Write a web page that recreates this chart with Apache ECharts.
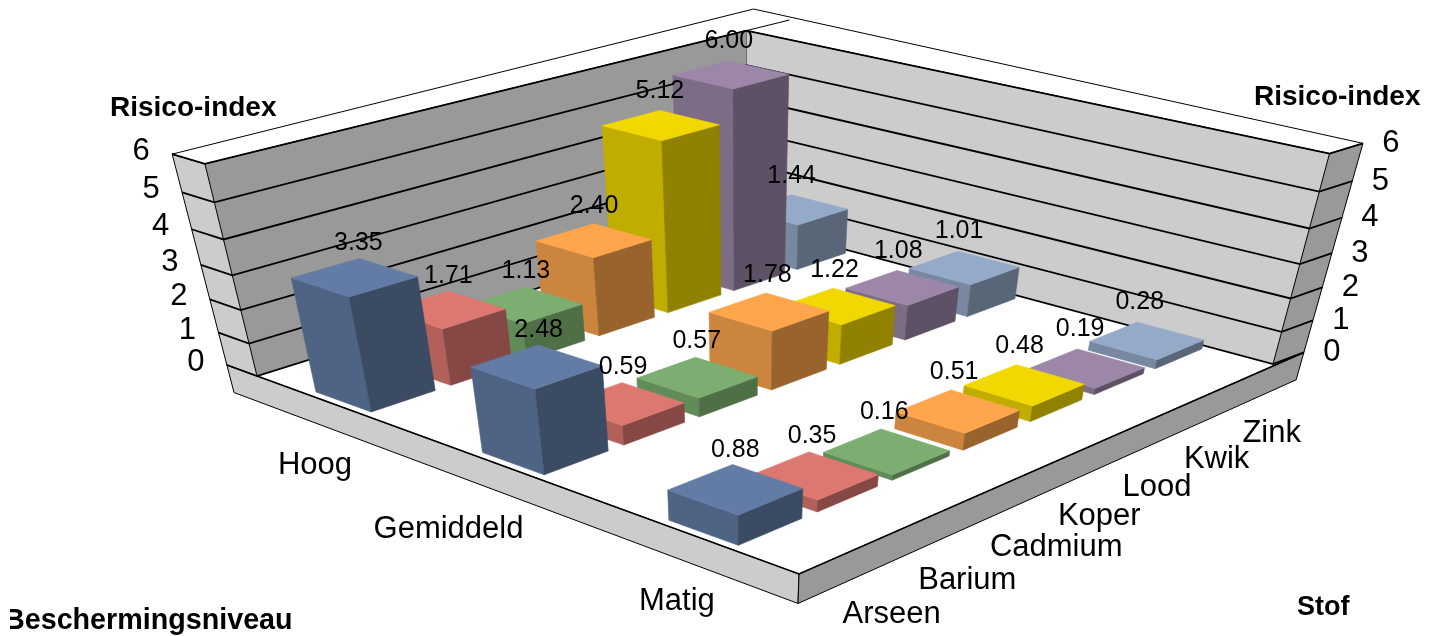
<!DOCTYPE html>
<html>
<head>
<meta charset="utf-8">
<title>Risico-index</title>
<style>
  html, body { margin: 0; padding: 0; background: #fff; }
  #chart { width: 1433px; height: 636px; }
</style>
<script src="https://cdn.jsdelivr.net/npm/echarts@6/dist/echarts.min.js"></script>
</head>
<body>
<div id="chart"></div>
<script>
// data
var stoffen = ['Arseen', 'Barium', 'Cadmium', 'Koper', 'Lood', 'Kwik', 'Zink'];
var niveaus = ['Hoog', 'Gemiddeld', 'Matig'];
var hoog = [3.35, 1.71, 1.13, 2.40, 5.12, 6.00, 1.44];
var gemiddeld = [2.48, 0.59, 0.57, 1.78, 1.22, 1.08, 1.01];
var matig = [0.88, 0.35, 0.16, 0.51, 0.48, 0.19, 0.28];
var yTicks = [0, 1, 2, 3, 4, 5, 6];

// top, left side, right side
var barColors = [
  ['#637ca6', '#4f6484', '#3c4b64'],
  ['#dd7871', '#b1605a', '#854844'],
  ['#7bae70', '#628b5a', '#4f6f47'],
  ['#ffa64d', '#cc853e', '#99632e'],
  ['#f0d800', '#c0ad00', '#908200'],
  ['#9c87a8', '#7d6c86', '#5e5165'],
  ['#94aac8', '#7788a0', '#596678']
];

var font = '"Liberation Sans", Arial, sans-serif';

// camera: pixel position of the inner box corners
var floorL = [257, 376], floorB = [746, 223], floorR = [1273, 364], floorF = [799, 574];
var topL = [206, 166], topB = [746, 25], topR = [1329, 158];
var maxZ = 6;
var nx = stoffen.length, ny = niveaus.length;
var wallY = 0.2, wallX = 0.5, wallEnd = 0.015, slabZ = -0.88; // wall and slab thickness
var barHalfX = 0.4, barHalfY = 0.172;

var dx1 = floorB[0] - floorR[0], dx2 = floorF[0] - floorR[0], dx3 = floorL[0] - floorB[0] + floorR[0] - floorF[0];
var dy1 = floorB[1] - floorR[1], dy2 = floorF[1] - floorR[1], dy3 = floorL[1] - floorB[1] + floorR[1] - floorF[1];
var det = dx1 * dy2 - dx2 * dy1;
var g = (dx3 * dy2 - dx2 * dy3) / det, h = (dx1 * dy3 - dx3 * dy1) / det;
var a = floorB[0] - floorL[0] + g * floorB[0], b = floorF[0] - floorL[0] + h * floorF[0], c = floorL[0];
var d = floorB[1] - floorL[1] + g * floorB[1], e = floorF[1] - floorL[1] + h * floorF[1], f = floorL[1];

// vertical column of the camera matrix, least squares over the three known top corners
function solveZColumn() {
  var pts = [[0, 0, topL], [nx, 0, topB], [nx, ny, topR]];
  var M = [[0, 0, 0, 0], [0, 0, 0, 0], [0, 0, 0, 0]];
  pts.forEach(function (p) {
    var s = p[0] / nx, t = p[1] / ny, u = p[2][0], v = p[2][1];
    var w = g * s + h * t + 1;
    var rows = [
      [maxZ, 0, -u * maxZ, u * w - (a * s + b * t + c)],
      [0, maxZ, -v * maxZ, v * w - (d * s + e * t + f)]
    ];
    rows.forEach(function (r) {
      for (var i = 0; i < 3; i++) for (var j = 0; j < 4; j++) M[i][j] += r[i] * r[j];
    });
  });
  for (var i = 0; i < 3; i++) {
    for (var k = 0; k < 3; k++) {
      if (k === i) continue;
      var m = M[k][i] / M[i][i];
      for (var j = i; j < 4; j++) M[k][j] -= m * M[i][j];
    }
  }
  return [M[0][3] / M[0][0], M[1][3] / M[1][1], M[2][3] / M[2][2]];
}
var zCol = solveZColumn();

function project(x, y, z) {
  var s = x / nx, t = y / ny;
  var w = g * s + h * t + 1 + zCol[2] * z;
  return [(a * s + b * t + c + zCol[0] * z) / w, (d * s + e * t + f + zCol[1] * z) / w];
}

function poly(pts, fill, stroke, lw) {
  return {
    type: 'polygon',
    shape: { points: pts.map(function (p) { return project(p[0], p[1], p[2]); }) },
    style: { fill: fill, stroke: stroke || fill, lineWidth: lw || 0.6 }
  };
}
function line(pts, lw, color) {
  return {
    type: 'polyline',
    shape: { points: pts.map(function (p) { return project(p[0], p[1], p[2]); }) },
    style: { fill: null, stroke: color || '#000', lineWidth: lw }
  };
}
function label(text, pos, size, align, weight) {
  return {
    type: 'text',
    x: pos[0], y: pos[1],
    style: {
      text: text, fill: '#000',
      font: (weight || 'normal') + ' ' + size + 'px ' + font,
      textAlign: align, textVerticalAlign: 'middle'
    }
  };
}

// back to front, so the nearer bars cover the others
var rows = [hoog, gemiddeld, matig];
var barData = [];
rows.forEach(function (row, j) {
  for (var i = row.length - 1; i >= 0; i--) barData.push([i, j, row[i]]);
});

function renderFrame() {
  var X = nx + wallX, Y = -wallY, E = ny + wallEnd;
  return {
    type: 'group',
    children: [
      poly([[0, 0, 0], [nx, 0, 0], [nx, 0, maxZ], [0, 0, maxZ]], '#999999'),
      poly([[nx, 0, 0], [nx, ny, 0], [nx, ny, maxZ], [nx, 0, maxZ]], '#cccccc'),
      poly([[0, Y, 0], [0, 0, 0], [0, 0, maxZ], [0, Y, maxZ]], '#cccccc', '#000', 1),
      poly([[nx, ny, 0], [X, E, 0], [X, E, maxZ], [nx, ny, maxZ]], '#999999', '#000', 1),
      poly([[0, Y, 0], [0, ny, 0], [0, ny, slabZ], [0, Y, slabZ]], '#cccccc', '#000', 1),
      poly([[0, ny, 0], [X, E, 0], [X, E, slabZ], [0, ny, slabZ]], '#999999', '#000', 1),
      // white top of the two walls, the far outer corner sits a bit further out
      poly([[0, Y, maxZ], [nx + 0.8, -0.27, maxZ], [X, E, maxZ], [nx, ny, maxZ], [nx, 0, maxZ], [0, 0, maxZ]], '#fff', '#000', 1),
      line([[nx, 0, maxZ], [nx + 0.67, 0, maxZ]], 1),
      line([[nx, 0, 0], [nx, 0, maxZ]], 1, '#666'),
      line([[0, 0, 0], [0, ny, 0], [X, E, 0]], 1.6)
    ]
  };
}
function renderGrid(params, api) {
  var z = api.value(0);
  return line([[0, -wallY, z], [0, 0, z], [nx, 0, z], [nx, ny, z], [nx + wallX, ny + wallEnd, z]], 1.8);
}
function renderBar(params, api) {
  var i = api.value(0), j = api.value(1), v = api.value(2);
  var x0 = i + 0.5 - barHalfX, x1 = i + 0.5 + barHalfX;
  var y0 = j + 0.5 - barHalfY, y1 = j + 0.5 + barHalfY;
  var col = barColors[i];
  return {
    type: 'group',
    children: [
      poly([[x0, y0, 0], [x0, y1, 0], [x0, y1, v], [x0, y0, v]], col[1]),
      poly([[x0, y1, 0], [x1, y1, 0], [x1, y1, v], [x0, y1, v]], col[2]),
      poly([[x0, y0, v], [x1, y0, v], [x1, y1, v], [x0, y1, v]], col[0])
    ]
  };
}
function renderValue(params, api) {
  var i = api.value(0), j = api.value(1), v = api.value(2);
  var p = project(i + 0.5, j + 0.5, v);
  return label(v.toFixed(2), [p[0] + 4 - 1.2 * i - 2 * j, p[1] - 34 - 2.5 * j], 25, 'center');
}
function renderLeftTick(params, api) {
  var z = api.value(0), p = project(0, -wallY, z);
  return label(String(z), [p[0] - 31, p[1] - 2.5], 31, 'center');
}
function renderRightTick(params, api) {
  var z = api.value(0), p = project(nx + wallX, ny + wallEnd, z);
  return label(String(z), [p[0] + 28, p[1]], 31, 'center');
}
function renderNiveau(params, api) {
  var j = params.dataIndex, p = project(0, j + 0.5, slabZ);
  return label(niveaus[j], [p[0] + 11 + 4 * j, p[1] + 33 + 1.5 * j], 31, 'right');
}
function renderStof(params, api) {
  var i = params.dataIndex, p = project(i + 0.5, ny, slabZ);
  return label(stoffen[i], [p[0] + 5, p[1] + 29], 31, 'left');
}
function renderTitle(params, api) {
  return {
    type: 'group',
    children: [
      label('Risico-index', [110, 108], 28, 'left', 'bold'),
      label('Risico-index', [1254, 97], 28, 'left', 'bold'),
      label('Stof', [1297, 608], 27, 'left', 'bold'),
      label('Beschermingsniveau', [4, 621], 28.7, 'left', 'bold'),
      // the first letter is cut off at the picture edge in the original
      { type: 'rect', shape: { x: 0, y: 600, width: 10, height: 36 }, style: { fill: '#fff' } }
    ]
  };
}

function custom(render, data, zlevel) {
  return { type: 'custom', coordinateSystem: 'none', renderItem: render, data: data, silent: true, animation: false, z: zlevel };
}

var chart = echarts.init(document.getElementById('chart'), null, { renderer: 'canvas' });
chart.setOption({
  animation: false,
  backgroundColor: '#fff',
  series: [
    custom(renderFrame, [0], 1),
    custom(renderGrid, yTicks, 2),
    custom(renderBar, barData, 3),
    custom(renderValue, barData, 4),
    custom(renderLeftTick, yTicks, 4),
    custom(renderRightTick, yTicks, 4),
    custom(renderNiveau, niveaus, 4),
    custom(renderStof, stoffen, 4),
    custom(renderTitle, [0], 4)
  ]
});
</script>
</body>
</html>
